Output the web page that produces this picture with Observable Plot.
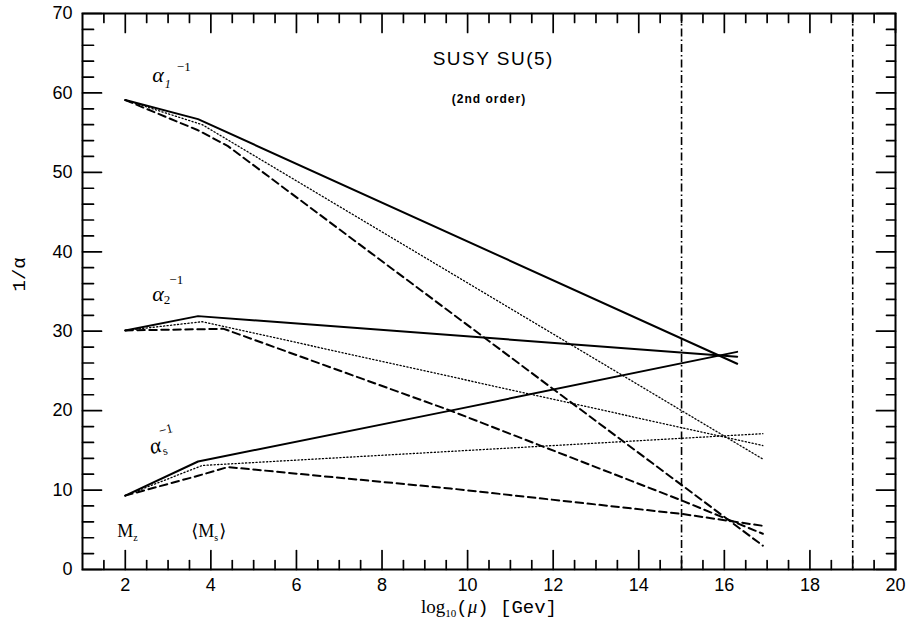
<!DOCTYPE html>
<html><head><meta charset="utf-8">
<script src="https://cdn.jsdelivr.net/npm/d3@7"></script>
<script src="https://cdn.jsdelivr.net/npm/@observablehq/plot@0.6"></script>
<style>body{margin:0;background:#fff;}</style>
</head><body><div id="chart"></div>
<script>
// ---- data ----
const a1Solid  = [[2,59.1],[3.7,56.7],[16.3,25.9]];
const a1Dotted = [[2,59.1],[3.8,56.0],[16.9,13.9]];
const a1Dashed = [[2,59.1],[3.7,55.3],[4.4,53.3],[16.9,3.0]];
const a2Solid  = [[2,30.1],[3.7,31.9],[16.3,26.8]];
const a2Dotted = [[2,30.1],[3.8,31.2],[16.9,15.6]];
const a2Dashed = [[2,30.1],[4.3,30.3],[9.6,20.0],[15,8.7],[16.9,4.5]];
const a3Solid  = [[2,9.3],[3.7,13.6],[9.6,20.0],[16.3,27.4]];
const a3Dotted = [[2,9.3],[3.8,13.1],[16.9,17.1]];
const a3Dashed = [[2,9.3],[3.7,11.8],[4.4,12.9],[9.6,10.2],[15,7.0],[16.9,5.5]];
const scaleLines = [15, 19];

const xMajor = [2,4,6,8,10,12,14,16,18,20];
const xMinor = d3.range(1.5, 20, 0.5).filter(v => v % 2 !== 0);
const yMajor = [0,10,20,30,40,50,60,70];
const yMinor = d3.range(2, 70, 2).filter(v => v % 10 !== 0);

const title = [{t:"SUSY SU(5)", x:10.6, y:64.3}];
const subtitle = [{t:"(2nd order)", x:10.5, y:59.2}];
const labels = [
  {t:"α1-1", x:2.63, y:62.1},
  {t:"α2-1", x:2.63, y:34.5},
  {t:"Mz",   x:1.81, y:4.78},
  {t:"⟨Ms⟩", x:3.54, y:4.78}
];
const labelS = [{t:"αs-1", x:2.58, y:15.2}];
const xLabel = "log10(μ) [Gev]";
const yLabel = "1/α";

// ---- layout ----
const W=907, H=624, mL=82, mR=12, mT=13, mB=55;
const iW=W-mL-mR, iH=H-mT-mB;
const xDom=[1,20], yDom=[0,70];
const pxX = (xDom[1]-xDom[0])/iW, pxY = (yDom[1]-yDom[0])/iH;   // data units per pixel
const LONG=19, SHORT=9;

// inward tick segments, built from the tick arrays (two points per segment, grouped by key)
const tickSegs = [];
function addX(vals, len, side) {
  for (const v of vals) {
    const y0 = side === "b" ? yDom[0] : yDom[1];
    const y1 = side === "b" ? y0 + len*pxY : y0 - len*pxY;
    tickSegs.push({x:v, y:y0, k:side+v}, {x:v, y:y1, k:side+v});
  }
}
function addY(vals, len, side) {
  for (const v of vals) {
    const x0 = side === "l" ? xDom[0] : xDom[1];
    const x1 = side === "l" ? x0 + len*pxX : x0 - len*pxX;
    tickSegs.push({x:x0, y:v, k:side+v}, {x:x1, y:v, k:side+v});
  }
}
addX(xMajor, LONG, "b"); addX(xMinor, SHORT, "b");
addX(xMajor, LONG, "t"); addX(xMinor, SHORT, "t");
addY(yMajor, LONG, "l"); addY(yMinor, SHORT+2, "l");
addY(yMajor, LONG, "r"); addY(yMinor, SHORT, "r");

const lineMarks = [];
for (const [d, kind] of [[a1Solid,"s"],[a2Solid,"s"],[a3Solid,"s"],[a1Dotted,"o"],[a2Dotted,"o"],[a3Dotted,"o"],[a1Dashed,"d"],[a2Dashed,"d"],[a3Dashed,"d"]]) {
  if (kind==="s") lineMarks.push(Plot.line(d, {stroke:"black", strokeWidth:2}));
  if (kind==="o") lineMarks.push(Plot.line(d, {stroke:"black", strokeWidth:1.3, strokeDasharray:"1.2,2.3"}));
  if (kind==="d") lineMarks.push(Plot.line(d, {stroke:"black", strokeWidth:2, strokeDasharray:"7.5,4.5"}));
}

const plot = Plot.plot({
  width: W, height: H,
  marginLeft: mL, marginRight: mR, marginTop: mT, marginBottom: mB,
  style: {fontFamily:"Liberation Sans, Arial, sans-serif", fontSize:"18px", color:"black", background:"white"},
  x: {domain:xDom},
  y: {domain:yDom},
  marks: [
    Plot.axisX({ticks:xMajor, tickSize:0, tickPadding:9, label:null, fontSize:18}),
    Plot.axisY({ticks:yMajor, tickSize:0, tickPadding:10, label:null, fontSize:18}),
    Plot.ruleX(scaleLines, {stroke:"black", strokeWidth:1.6, strokeDasharray:"8,3,1.5,3"}),
    ...lineMarks,
    Plot.line(tickSegs, {x:"x", y:"y", z:"k", stroke:"black", strokeWidth:1.7}),
    Plot.frame({stroke:"black", strokeWidth:2}),
    Plot.text(title, {x:"x", y:"y", text:"t", fontSize:19, fill:"black"}),
    Plot.text(subtitle, {x:"x", y:"y", text:"t", fontSize:12, fontWeight:"bold", fill:"black"}),
    Plot.text(labels, {x:"x", y:"y", text:"t", textAnchor:"start", fill:"black"}),
    Plot.text(labelS, {x:"x", y:"y", text:"t", textAnchor:"start", fill:"black", rotate:-15}),
    Plot.text([xLabel], {frameAnchor:"bottom", dy:43, text:d=>d, fill:"black"}),
    Plot.text([yLabel], {frameAnchor:"left", dx:-64, rotate:-90, text:d=>d, fill:"black", fontSize:19, fontFamily:"Liberation Mono, monospace"})
  ]
});
document.getElementById("chart").append(plot);

// ---- rich text (sub/superscripts) ----
const allTexts = Array.from(plot.querySelectorAll("text"));
function findText(s) { return allTexts.find(t => t.textContent === s); }
function rich(s, parts) {
  const t = findText(s);
  if (!t) return;
  const sel = d3.select(t); sel.text(null);
  let cur = 0;
  for (const p of parts) {
    const ts = sel.append("tspan").text(p.t);
    const off = p.off || 0;
    ts.attr("dy", off - cur); cur = off;
    if (p.size) ts.attr("font-size", p.size);
    if (p.style) ts.attr("font-style", p.style);
    ts.attr("font-family", p.family || "Liberation Serif, serif");
    if (p.dx) ts.attr("dx", p.dx);
  }
}
rich("α1-1", [{t:"α", size:22, style:"italic"}, {t:"1", size:12, style:"italic", off:6, dx:1}, {t:"−1", size:13, off:-11, dx:6}]);
rich("α2-1", [{t:"α", size:22, style:"italic"}, {t:"2", size:13, off:3}, {t:"−1", size:13, off:-17, dx:-1}]);
rich("αs-1", [{t:"α", size:22, style:"italic"}, {t:"s", size:12, off:4}, {t:"−1", size:13, off:-16, dx:-3}]);
rich("Mz", [{t:"M", size:18}, {t:"z", size:10, off:4}]);
rich("⟨Ms⟩", [{t:"⟨", size:18, family:"DejaVu Sans"}, {t:"M", size:18}, {t:"s", size:10, off:4}, {t:"⟩", size:18, off:0, dx:1, family:"DejaVu Sans"}]);
rich(xLabel, [{t:"log", size:19}, {t:"10", size:11, off:4}, {t:"(", size:19, family:"Liberation Mono, monospace"}, {t:"μ", size:19, style:"italic"}, {t:") [Gev]", size:19, family:"Liberation Mono, monospace"}]);
const tt = findText("SUSY SU(5)"); if (tt) tt.setAttribute("letter-spacing", "1.5");
const st = findText("(2nd order)"); if (st) st.setAttribute("letter-spacing", "1");
</script>
</body></html>
